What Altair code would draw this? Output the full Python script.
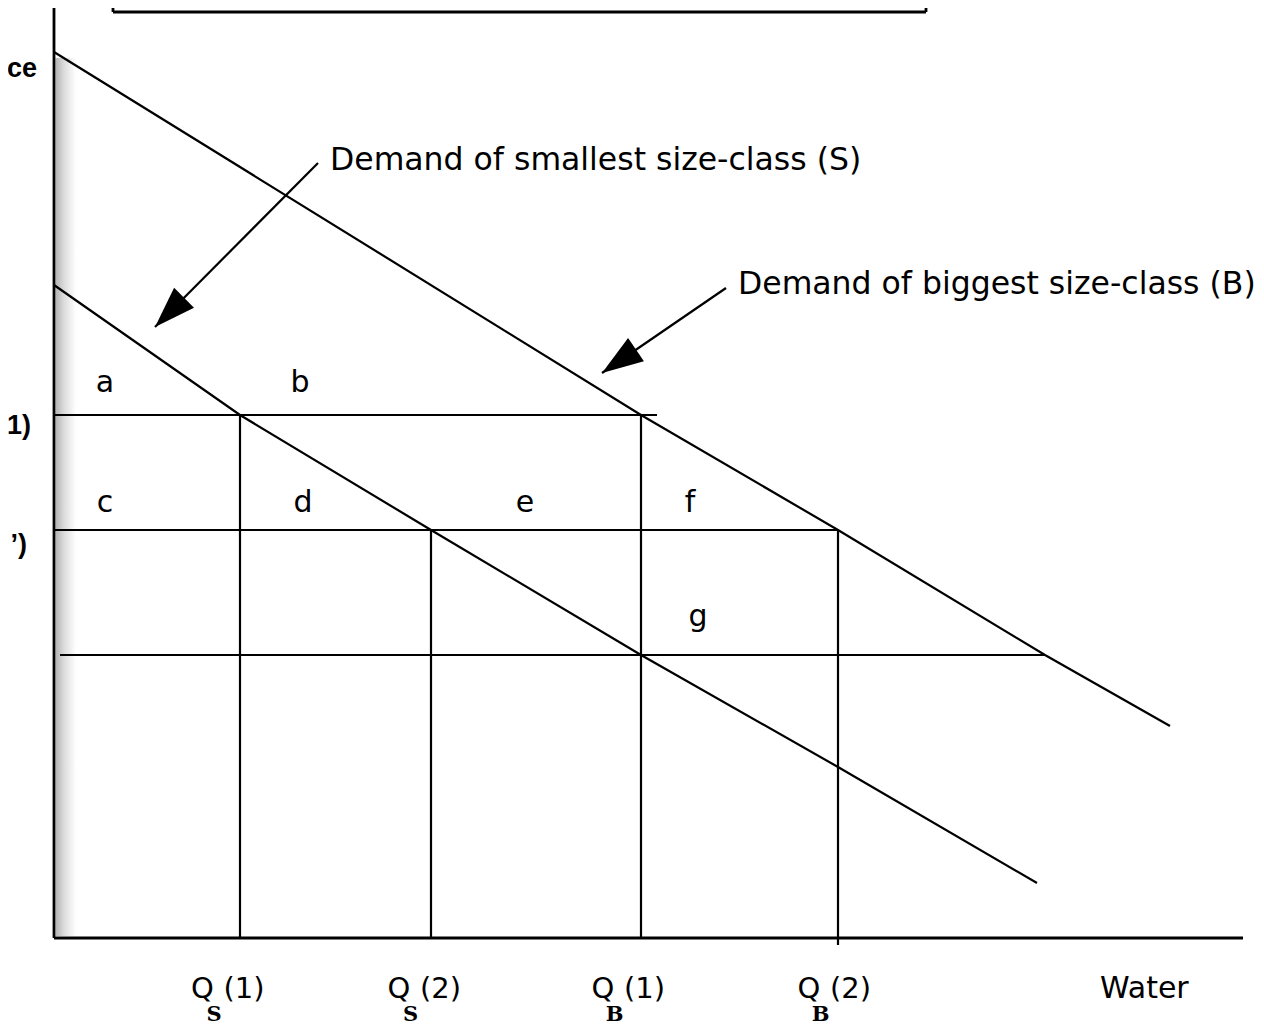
import altair as alt
import pandas as pd
import numpy as np

# ---- values (x = quantity of water, y = price) ----
s_q = [0.0, 18.6, 37.7, 58.7, 78.4, 98.3]
s_p = [65.3, 52.3, 40.8, 28.3, 17.1, 5.5]
b_q = [0.0, 58.7, 78.4, 99.1, 111.6]
b_p = [88.6, 52.3, 40.8, 28.3, 21.2]

price_levels = [52.3, 40.8, 28.3]
price_from = [0.0, 0.0, 0.6]
price_to = [60.3, 78.4, 99.1]

qty_levels = [18.6, 37.7, 58.7, 78.4]
qty_from = [0.0, 0.0, 0.0, -0.7]
qty_to = [52.3, 40.8, 52.3, 40.8]

area_labels = ["a", "b", "c", "d", "e", "f", "g"]
area_x = [5.1, 24.6, 5.1, 24.9, 47.1, 63.6, 64.4]
area_y = [54.6, 54.6, 42.6, 42.6, 42.6, 42.6, 31.2]

curve_labels = ["Demand of smallest size-class (S)", "Demand of biggest size-class (B)"]
curve_label_x = [27.6, 68.4]
curve_label_y = [76.8, 64.4]
arrow_x0 = [26.4, 67.2]
arrow_y0 = [77.5, 65.0]
arrow_x1 = [10.1, 54.8]
arrow_y1 = [61.1, 56.5]

q_main = ["Q", "Q", "Q", "Q"]
q_x = [14.85, 34.5, 54.9, 75.5]
q_sub = ["S", "S", "B", "B"]
q_sub_x = [16.0, 35.65, 56.05, 76.65]
q_idx = ["(1)", "(2)", "(1)", "(2)"]
q_idx_x = [16.95, 36.6, 57.0, 77.6]
q_y = -6.0
q_sub_y = -8.3

x_title = ["Water"]
x_title_x = [104.6]

y_cut_labels = ["ce", "1)", "\u2019)"]
y_cut_x = [-1.7, -2.3, -2.7]
y_cut_y = [86.1, 50.4, 38.5]

axis_x_end = 118.9
axis_y_end = 93.2
box_left, box_right, box_bottom, box_top = 5.9, 87.2, 92.6, 93.0

# ---- scales ----
xs = alt.Scale(domain=[-4.6, 120.2], nice=False, zero=False)
ys = alt.Scale(domain=[-9.0, 93.0], nice=False, zero=False)


def X(f):
    return alt.X(f, type="quantitative", scale=xs, axis=None)


def Y(f):
    return alt.Y(f, type="quantitative", scale=ys, axis=None)


# ---- tables ----
curves = pd.concat([
    pd.DataFrame({"q": s_q, "p": s_p, "curve": "S", "o": range(len(s_q))}),
    pd.DataFrame({"q": b_q, "p": b_p, "curve": "B", "o": range(len(b_q))}),
])

hseg = pd.DataFrame({"x": price_from, "x2": price_to, "y": price_levels, "y2": price_levels})
vseg = pd.DataFrame({"x": qty_levels, "x2": qty_levels, "y": qty_from, "y2": qty_to})
axes_df = pd.DataFrame({"x": [0.0, 0.0], "x2": [0.0, axis_x_end], "y": [0.0, 0.0], "y2": [axis_y_end, 0.0]})
box_df = pd.DataFrame({
    "x": [box_left, box_left, box_right],
    "x2": [box_right, box_left, box_right],
    "y": [box_bottom, box_bottom, box_bottom],
    "y2": [box_bottom, box_top, box_top],
})

arrows = pd.DataFrame({"x": arrow_x0, "y": arrow_y0, "x2": arrow_x1, "y2": arrow_y1})
arrows["ang"] = np.mod(np.degrees(np.arctan2(arrows["x2"] - arrows["x"], arrows["y2"] - arrows["y"])), 360)

shade = pd.DataFrame({"x": [0.15], "x2": [2.2], "y": [0.2], "y2": [88.0]})

area_df = pd.DataFrame({"t": area_labels, "x": area_x, "y": area_y})
curve_lab_df = pd.DataFrame({"t": curve_labels, "x": curve_label_x, "y": curve_label_y})
q_df = pd.DataFrame({"t": q_main, "x": q_x, "y": [q_y] * 4})
q_sub_df = pd.DataFrame({"t": q_sub, "x": q_sub_x, "y": [q_sub_y] * 4})
q_idx_df = pd.DataFrame({"t": q_idx, "x": q_idx_x, "y": [q_y] * 4})
xt_df = pd.DataFrame({"t": x_title, "x": x_title_x, "y": [q_y]})
ycut_df = pd.DataFrame({"t": y_cut_labels, "x": y_cut_x, "y": y_cut_y})

FONT = "DejaVu Sans"

shade_layer = alt.Chart(shade).mark_rect(
    color=alt.Gradient(
        gradient="linear",
        stops=[
            alt.GradientStop(color="#b4b4b4", offset=0),
            alt.GradientStop(color="#dedede", offset=0.45),
            alt.GradientStop(color="#ffffff", offset=1),
        ],
        x1=0, x2=1, y1=0, y2=0,
    )
).encode(x=X("x"), x2=alt.X2("x2"), y=Y("y"), y2=alt.Y2("y2"))


def rules(df, w):
    return alt.Chart(df).mark_rule(color="black", strokeWidth=w).encode(
        x=X("x"), x2=alt.X2("x2"), y=Y("y"), y2=alt.Y2("y2"))


curve_layer = alt.Chart(curves).mark_line(color="black", strokeWidth=2.2).encode(
    x=X("q"), y=Y("p"), detail="curve:N", order="o:Q")

arrow_lines = alt.Chart(arrows).mark_rule(color="black", strokeWidth=2.2).encode(
    x=X("x"), x2=alt.X2("x2"), y=Y("y"), y2=alt.Y2("y2"))
arrow_heads = alt.Chart(arrows).mark_point(
    shape="M0,0L0.68,2L-0.68,2Z", filled=True, size=1700, color="black", opacity=1, strokeWidth=0
).encode(x=X("x2"), y=Y("y2"), angle=alt.Angle("ang:Q", scale=None))


def texts(df, **kw):
    return alt.Chart(df).mark_text(color="black", baseline="alphabetic", **kw).encode(
        x=X("x"), y=Y("y"), text="t:N")


chart = alt.layer(
    shade_layer,
    rules(hseg, 2.2),
    rules(vseg, 2.2),
    rules(axes_df, 2.8),
    rules(box_df, 2.8),
    curve_layer,
    arrow_lines,
    arrow_heads,
    texts(area_df, font=FONT, fontSize=30, align="center"),
    texts(curve_lab_df, font=FONT, fontSize=31.5, align="left"),
    texts(q_df, font=FONT, fontSize=29, align="center"),
    texts(q_sub_df, font="DejaVu Serif", fontSize=21, fontWeight="bold", align="center"),
    texts(q_idx_df, font=FONT, fontSize=29, align="left"),
    texts(xt_df, font=FONT, fontSize=30, align="left"),
    texts(ycut_df, font="Liberation Sans", fontSize=27, fontWeight="bold", align="right"),
).properties(
    width=1248, height=1020, padding=0, autosize=alt.AutoSizeParams(type="none")
).configure_view(stroke="transparent")

chart.save("out.html", embed_options={"renderer": "svg", "actions": False})
